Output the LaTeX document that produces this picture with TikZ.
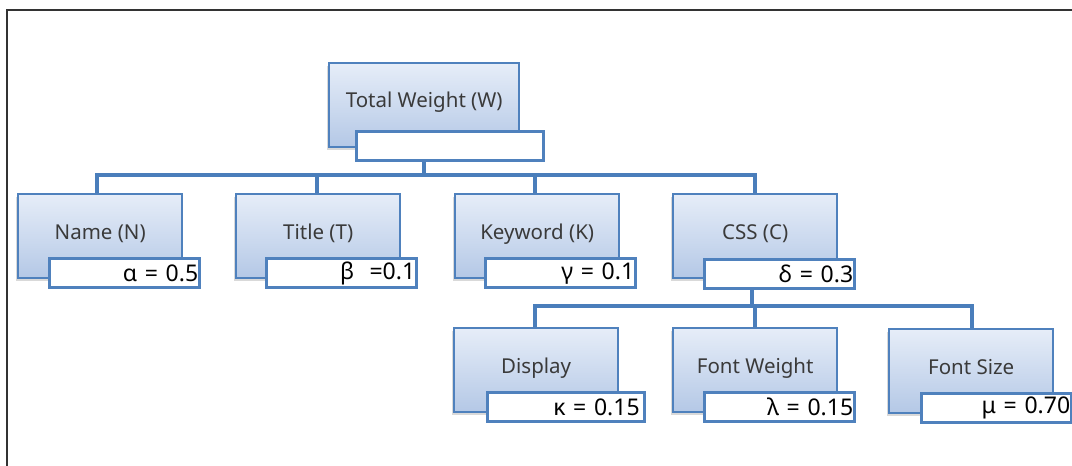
\documentclass[tikz,border=0pt]{standalone}
\usepackage{fontspec}
\setmainfont{Noto Sans}
\usetikzlibrary{shadows,calc}
\definecolor{edgeblue}{HTML}{4F81BD}
\definecolor{linkblue}{HTML}{4A7EBB}
\definecolor{boxtop}{HTML}{E6EDF8}
\definecolor{boxbot}{HTML}{B4C8E6}
\definecolor{labelgray}{HTML}{3A3A3A}
\begin{document}
\begin{tikzpicture}[x=1pt,y=-1pt,
  catbox/.style={draw=edgeblue, line width=2.4pt, top color=boxtop, bottom color=boxbot,
    minimum width=164pt, minimum height=84pt, inner sep=0pt, anchor=north west,
    text=labelgray, font=\fontsize{20.5}{22}\selectfont,
    drop shadow={shadow xshift=-2pt, shadow yshift=-3pt, opacity=0.3, fill=gray}},
  valbox/.style={draw=edgeblue, line width=3.4pt, fill=white,
    minimum width=150pt, minimum height=29pt, inner sep=0pt, anchor=north west,
    text width=147pt, align=right, font=\fontsize{23}{23}\selectfont, text=black},
  link/.style={draw=linkblue, line width=3.5pt},
  frameline/.style={draw=black!80, line width=2pt}]
\useasboundingbox (0,0) rectangle (1072,466);
\draw[frameline] (7,466) -- (7,10) -- (1072,10);

% connectors, drawn first so the boxes sit on top
\coordinate (bus1) at (424,175);
\coordinate (bus2) at (752,306);
\coordinate (n-top) at (97,193);
\coordinate (t-top) at (317,193);
\coordinate (k-top) at (535,193);
\coordinate (c-top) at (755,193);
\coordinate (d-top) at (535,327);
\coordinate (fw-top) at (755,327);
\coordinate (fs-top) at (972,328);
\draw[link] (424,140) -- (bus1);
\foreach \ch in {n,t,k,c} \draw[link] (bus1) -| (\ch-top);
\draw[link] (752,270) -- (bus2);
\foreach \ch in {d,fw,fs} \draw[link] (bus2) -| (\ch-top);

% categories and their weights
\node[catbox, minimum width=190pt] (tw) at (328,62) {\raisebox{10pt}{Total Weight (W)}};
\node[valbox, minimum width=187pt] (twv) at (355,130) {};

\node[catbox] (n) at (17,193) {\raisebox{8pt}{Name (N)}};
\node[valbox] (nv) at (48,257) {α = 0.5};
\node[catbox] (t) at (235,193) {\raisebox{8pt}{Title (T)}};
\node[valbox] (tv) at (265,257) {β~~=0.1};
\node[catbox] (k) at (454,193) {\raisebox{8pt}{Keyword (K)}};
\node[valbox] (kv) at (484,257) {γ = 0.1};
\node[catbox] (c) at (672,193) {\raisebox{8pt}{CSS (C)}};
\node[valbox] (cv) at (703,258) {δ = 0.3};

\node[catbox] (d) at (453,327) {\raisebox{8pt}{Display}};
\node[valbox, minimum width=157pt] (dv) at (486,391) {κ = 0.15};
\node[catbox] (fw) at (672,327) {\raisebox{8pt}{Font Weight}};
\node[valbox] (fwv) at (703,391) {λ = 0.15};
\node[catbox] (fs) at (888,328) {\raisebox{8pt}{Font Size}};
\node[valbox] (fsv) at (920,392) {μ = 0.70};
\end{tikzpicture}
\end{document}
